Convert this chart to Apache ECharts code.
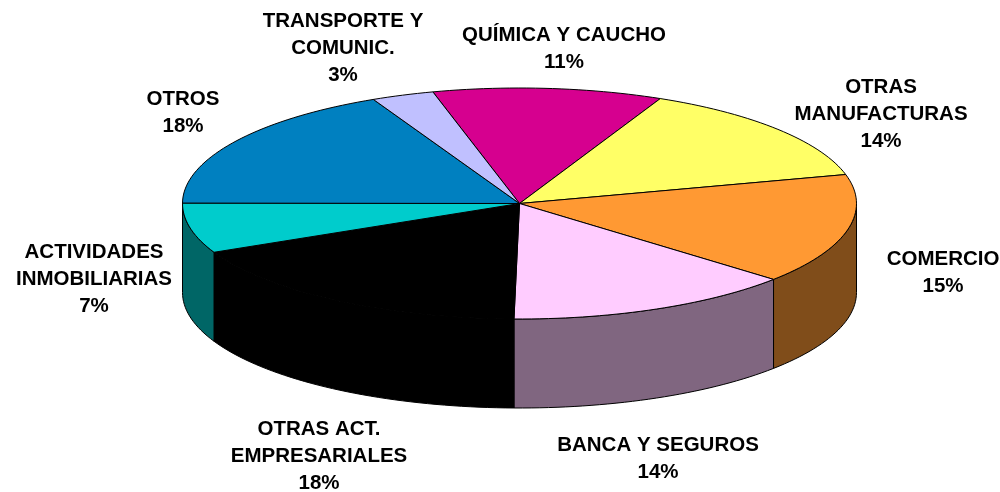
<!DOCTYPE html>
<html>
<head>
<meta charset="utf-8">
<style>html,body{margin:0;padding:0;background:#fff}#c{width:1000px;height:492px}</style>
<script src="https://cdn.jsdelivr.net/npm/echarts@6/dist/echarts.min.js"></script>
</head>
<body>
<div id="c"></div>
<script>
const categories = ['QUÍMICA Y CAUCHO','OTRAS\nMANUFACTURAS','COMERCIO','BANCA Y SEGUROS','OTRAS ACT.\nEMPRESARIALES','ACTIVIDADES\nINMOBILIARIAS','OTROS','TRANSPORTE Y\nCOMUNIC.'];
const shares = [11.0, 14.1, 15.45, 13.85, 17.8, 7.0, 17.8, 3.0];
const topColors = ['#D6008F','#FFFF66','#FF9933','#FFCCFF','#000000','#00CCCC','#0080C0','#C0C0FF'];
const sideColors = ['#6B0048','#808033','#804D1A','#806680','#000000','#006666','#004060','#606080'];
const labelAnchors = [[564,49],[881,114.5],[943,272.5],[658,459],[319,456],[94,279.5],[183,113],[343,48.5]];

const cx = 519.5, cy = 203.5, rx = 337, ry = 115.5, depth = 89, startDeg = -14.9;
const total = shares.reduce((a, b) => a + b, 0);
const starts = [];
shares.reduce((acc, v, i) => { starts[i] = acc; return acc + v / total * 360; }, startDeg);

function pt(deg, dy) {
  const r = deg * Math.PI / 180;
  return [cx + rx * Math.sin(r), cy - ry * Math.cos(r) + (dy || 0)];
}
function arc(a, b, dy) {
  const n = Math.max(2, Math.ceil(Math.abs(b - a) / 1.5));
  const out = [];
  for (let i = 0; i <= n; i++) out.push(pt(a + (b - a) * i / n, dy));
  return out;
}
function renderWall(params) {
  const i = params.dataIndex;
  const a = Math.max(starts[i], 90);
  const b = Math.min(starts[i] + shares[i] / total * 360, 270);
  if (b <= a) return { type: 'group', children: [] };
  return {
    type: 'polygon', silent: true,
    shape: { points: arc(a, b, 0).concat(arc(b, a, depth)) },
    style: { fill: sideColors[i], stroke: '#000', lineWidth: 1 }
  };
}
function renderTop(params) {
  const i = params.dataIndex;
  const a = starts[i], b = a + shares[i] / total * 360;
  return {
    type: 'group', silent: true,
    children: [
      { type: 'polygon', shape: { points: [[cx, cy]].concat(arc(a, b, 0)) },
        style: { fill: topColors[i], stroke: '#000', lineWidth: 1 } },
      { type: 'text', style: {
          x: labelAnchors[i][0], y: labelAnchors[i][1],
          text: categories[i] + '\n' + Math.round(shares[i]) + '%',
          fill: '#000', font: 'bold 20.5px "Liberation Sans", Arial, sans-serif',
          lineHeight: 27, align: 'center', verticalAlign: 'middle' } }
    ]
  };
}
const chart = echarts.init(document.getElementById('c'), null, { renderer: 'canvas' });
chart.setOption({
  animation: false,
  backgroundColor: '#fff',
  series: [
    { type: 'custom', coordinateSystem: 'none', renderItem: renderWall, data: shares, z: 1 },
    { type: 'custom', coordinateSystem: 'none', renderItem: renderTop, data: shares, z: 2 }
  ]
});
</script>
</body>
</html>
